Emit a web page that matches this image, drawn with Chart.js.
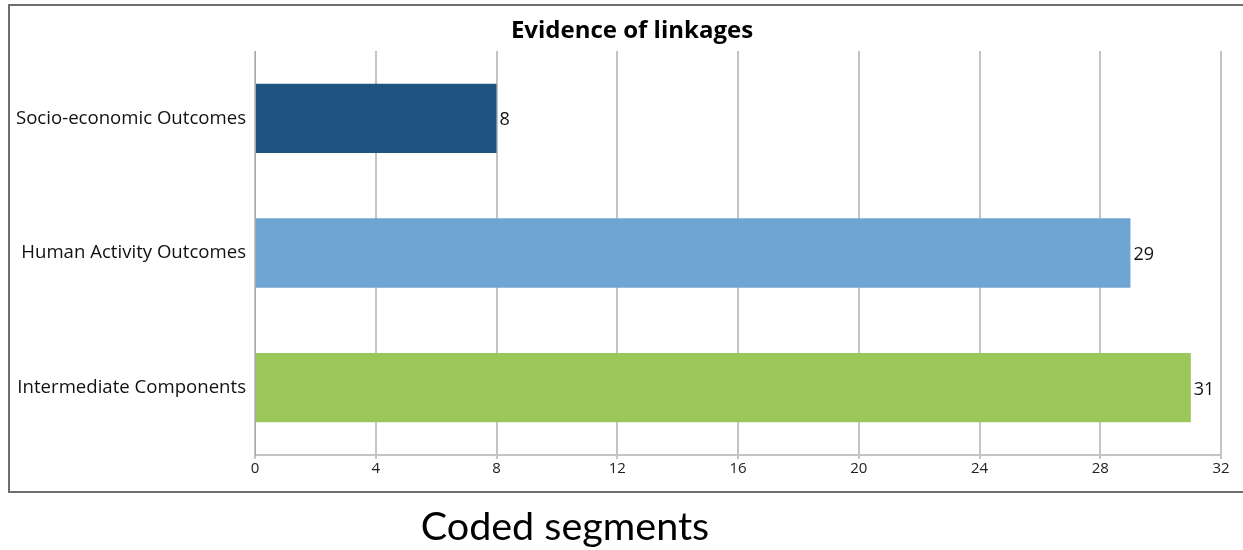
<!DOCTYPE html>
<html>
<head>
<meta charset="utf-8">
<script src="https://cdn.jsdelivr.net/npm/chart.js@4"></script>
<style>
  html, body { margin: 0; padding: 0; background: #ffffff; overflow: hidden; }
  body { width: 1243px; height: 550px; position: relative; }
  #frame {
    position: absolute; left: 8px; top: 4px; width: 1250px; height: 485px;
    border: 2px solid #6e6e6e; border-right: none; box-sizing: content-box;
  }
  #wrap { position: absolute; left: 0; top: 0; width: 1243px; height: 550px; }
  #caption {
    position: absolute; left: 0; width: 1130px; top: 500px;
    text-align: center; font-family: Lato, "Open Sans", sans-serif;
    font-size: 39.5px; line-height: 50px; color: #000;
  }
</style>
</head>
<body>
<div id="frame"></div>
<div id="wrap"><canvas id="chart" width="1243" height="550"></canvas></div>
<div id="caption">Coded segments</div>
<script>
// Categories and coded-segment counts
const categories = ["Socio-economic Outcomes", "Human Activity Outcomes", "Intermediate Components"];
const counts = [8, 29, 31];
const barColors = ["#1F5380", "#6FA5D3", "#9BC65A"];
const xTickValues = [0, 4, 8, 12, 16, 20, 24, 28, 32];
const chartTitle = "Evidence of linkages";

const uiFont = '"Open Sans", "Noto Sans", sans-serif';

// Writes each bar's count just past its end
const valueLabels = {
  id: "valueLabels",
  afterDatasetsDraw(chart) {
    const ctx = chart.ctx;
    const meta = chart.getDatasetMeta(0);
    ctx.save();
    ctx.font = "18px " + uiFont;
    ctx.fillStyle = "#111111";
    ctx.textAlign = "left";
    ctx.textBaseline = "middle";
    meta.data.forEach((bar, i) => {
      ctx.fillText(String(counts[i]), bar.x + 3, bar.y + 2);
    });
    ctx.restore();
  }
};

// Let the long category names run into the left padding instead of being clipped
const widenLabelArea = {
  id: "widenLabelArea",
  afterLayout(chart) {
    chart.scales.y.left = 0;
  }
};

new Chart(document.getElementById("chart"), {
  type: "bar",
  data: {
    labels: categories,
    datasets: [{
      data: counts,
      backgroundColor: barColors,
      borderWidth: 0,
      categoryPercentage: 1,
      barPercentage: 0.515
    }]
  },
  options: {
    indexAxis: "y",
    responsive: false,
    animation: false,
    layout: { padding: { left: 43, right: 22, top: 8, bottom: 71 } },
    plugins: {
      legend: { display: false },
      tooltip: { enabled: false },
      title: {
        display: true,
        text: chartTitle,
        color: "#000000",
        font: { family: uiFont, size: 24, weight: "bold" },
        padding: { top: 8.6, bottom: 5.6 }
      }
    },
    scales: {
      x: {
        min: 0,
        max: 32,
        afterBuildTicks(scale) {
          scale.ticks = xTickValues.map(v => ({ value: v }));
        },
        grid: {
          color: "#c4c4c4",
          lineWidth: 2,
          tickLength: 4,
          drawTicks: true
        },
        border: { color: "#c4c4c4", width: 2 },
        ticks: {
          color: "#222222",
          font: { family: uiFont, size: 15 },
          padding: 1,
          maxRotation: 0
        }
      },
      y: {
        afterFit(scale) { scale.width = 212; },
        grid: { display: false, drawTicks: false },
        border: { color: "#a8a8a8", width: 1 },
        ticks: {
          color: "#111111",
          font: { family: uiFont, size: 18.6 },
          padding: 9
        }
      }
    }
  },
  plugins: [valueLabels, widenLabelArea]
});
</script>
</body>
</html>
